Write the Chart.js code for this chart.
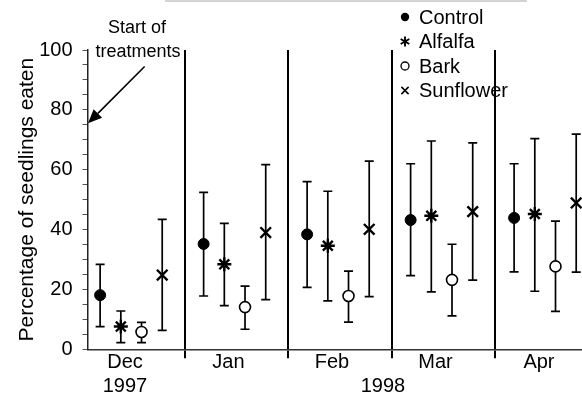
<!DOCTYPE html>
<html><head><meta charset="utf-8">
<script src="https://cdn.jsdelivr.net/npm/chart.js@4/dist/chart.umd.min.js"></script>
<style>html,body{margin:0;padding:0;background:#fff;}#wrap{width:582px;height:394px;}</style>
</head><body><div id="wrap"><canvas id="c" width="582" height="394"></canvas></div>
<script>
// ---- data ----
const months = ['Dec', 'Jan', 'Feb', 'Mar', 'Apr'];
const years = ['1997', '1998'];
const seriesNames = ['Control', 'Alfalfa', 'Bark', 'Sunflower'];
const yTickLabels = [0, 20, 40, 60, 80, 100];

const control      = [18.1, 35.2, 38.4, 43.2, 43.9];
const controlLow   = [7.6, 17.8, 20.7, 24.6, 25.9];
const controlHigh  = [28.4, 52.4, 56.0, 62.0, 62.0];

const alfalfa      = [7.6, 28.4, 34.6, 44.6, 45.2];
const alfalfaLow   = [2.2, 14.6, 16.2, 19.2, 19.4];
const alfalfaHigh  = [12.8, 42.1, 52.8, 69.6, 70.4];

const bark         = [5.8, 14.1, 17.8, 23.2, 27.7];
const barkLow      = [2.2, 6.7, 9.1, 11.2, 12.7];
const barkHigh     = [9.0, 21.1, 26.1, 35.1, 42.8];

const sunflower     = [24.8, 39.0, 40.1, 46.0, 48.9];
const sunflowerLow  = [6.3, 16.6, 17.6, 23.1, 25.8];
const sunflowerHigh = [43.4, 61.7, 62.9, 69.0, 71.9];

// ---- build ----
const FONT = "'Liberation Sans', Arial, Helvetica, sans-serif";
Chart.defaults.font.family = FONT;
Chart.defaults.font.size = 20;
Chart.defaults.color = '#000';

const seriesValues = [control, alfalfa, bark, sunflower];
const seriesLow = [controlLow, alfalfaLow, barkLow, sunflowerLow];
const seriesHigh = [controlHigh, alfalfaHigh, barkHigh, sunflowerHigh];
const withinMonth = [0.18, 0.38, 0.58, 0.78];
const styles = [
  {pointStyle: 'circle', radius: 5.5, backgroundColor: '#000', borderColor: '#000', borderWidth: 1},
  {pointStyle: 'star', radius: 7, backgroundColor: '#000', borderColor: '#000', borderWidth: 2.4},
  {pointStyle: 'circle', radius: 5.5, backgroundColor: '#fff', borderColor: '#000', borderWidth: 1.6},
  {pointStyle: 'crossRot', radius: 7.5, backgroundColor: '#000', borderColor: '#000', borderWidth: 2.4}
];

const datasets = seriesNames.map((name, k) => ({
  type: 'scatter',
  label: name,
  data: months.map((m, i) => ({x: i + withinMonth[k], y: seriesValues[k][i]})),
  errLow: seriesLow[k],
  errHigh: seriesHigh[k],
  pointStyle: styles[k].pointStyle,
  pointRadius: styles[k].radius,
  pointBackgroundColor: styles[k].backgroundColor,
  pointBorderColor: styles[k].borderColor,
  pointBorderWidth: styles[k].borderWidth,
  showLine: false
}));

// x ticks: separators at integer boundaries, month labels, year labels
const xTickDefs = [];
months.forEach((m, i) => {
  if (i > 0) xTickDefs.push({v: i, label: ''});
  xTickDefs.push({v: i + 0.42, label: i === 0 ? [m, years[0]] : [m]});
});
xTickDefs.push({v: 2.913, label: ['', years[1]]});
xTickDefs.sort((a, b) => a.v - b.v);

const errorBars = {
  id: 'errorBars',
  beforeDatasetsDraw(chart) {
    const ctx = chart.ctx, ys = chart.scales.y;
    ctx.save();
    ctx.strokeStyle = '#000';
    ctx.lineWidth = 1.7;
    chart.data.datasets.forEach((ds, di) => {
      const meta = chart.getDatasetMeta(di);
      meta.data.forEach((pt, j) => {
        const x = pt.x;
        const y1 = ys.getPixelForValue(ds.errLow[j]);
        const y2 = ys.getPixelForValue(ds.errHigh[j]);
        ctx.beginPath();
        ctx.moveTo(x, y1); ctx.lineTo(x, y2);
        ctx.moveTo(x - 4.5, y1); ctx.lineTo(x + 4.5, y1);
        ctx.moveTo(x - 4.5, y2); ctx.lineTo(x + 4.5, y2);
        ctx.stroke();
      });
    });
    ctx.restore();
  }
};

function marker(ctx, style, x, y, r) {
  ctx.save();
  ctx.strokeStyle = '#000';
  ctx.fillStyle = '#000';
  ctx.beginPath();
  if (style === 'filled') {
    ctx.arc(x, y, r, 0, Math.PI * 2); ctx.fill();
  } else if (style === 'open') {
    ctx.lineWidth = 1.3;
    ctx.arc(x, y, r, 0, Math.PI * 2); ctx.stroke();
  } else if (style === 'star') {
    ctx.lineWidth = 1.9;
    for (let a = 0; a < 3; a++) {
      const ang = Math.PI / 2 + a * Math.PI / 3;
      ctx.moveTo(x - r * Math.cos(ang), y - r * Math.sin(ang));
      ctx.lineTo(x + r * Math.cos(ang), y + r * Math.sin(ang));
    }
    ctx.stroke();
  } else if (style === 'x') {
    ctx.lineWidth = 1.5;
    ctx.moveTo(x - r, y - r); ctx.lineTo(x + r, y + r);
    ctx.moveTo(x + r, y - r); ctx.lineTo(x - r, y + r);
    ctx.stroke();
  }
  ctx.restore();
}

const legendMarkers = ['filled', 'star', 'open', 'x'];
const legendRadius = [4.2, 5, 4, 3.6];

const extras = {
  id: 'extras',
  afterDraw(chart) {
    const ctx = chart.ctx;
    const xs = chart.scales.x, ys = chart.scales.y;
    ctx.save();
    // faint scan line at top
    ctx.strokeStyle = '#d4d4d4';
    ctx.lineWidth = 2;
    ctx.beginPath(); ctx.moveTo(165, 1); ctx.lineTo(527, 1); ctx.stroke();

    // legend
    ctx.font = '20px ' + FONT;
    ctx.fillStyle = '#000';
    ctx.textBaseline = 'middle';
    ctx.textAlign = 'left';
    chart.data.datasets.forEach((ds, k) => {
      const cy = 17 + k * 24.5;
      marker(ctx, legendMarkers[k], 405, cy, legendRadius[k]);
      ctx.fillText(ds.label, 419, cy + 1);
    });

    // annotation
    ctx.font = '18px ' + FONT;
    ctx.textAlign = 'center';
    ctx.fillText('Start of', 137, 28);
    ctx.fillText('treatments', 138, 52);
    const tipX = xs.left + 0.5, tipY = ys.getPixelForValue(75.5);
    const tailX = xs.getPixelForValue(0.61), tailY = ys.getPixelForValue(94.5);
    const ang = Math.atan2(tipY - tailY, tipX - tailX);
    const hl = 14, hw = 6;
    const bx = tipX - hl * Math.cos(ang), by = tipY - hl * Math.sin(ang);
    ctx.strokeStyle = '#000';
    ctx.lineWidth = 1.6;
    ctx.beginPath(); ctx.moveTo(tailX, tailY); ctx.lineTo(bx, by); ctx.stroke();
    ctx.beginPath();
    ctx.moveTo(tipX, tipY);
    ctx.lineTo(bx + hw * Math.sin(ang), by - hw * Math.cos(ang));
    ctx.lineTo(bx - hw * Math.sin(ang), by + hw * Math.cos(ang));
    ctx.closePath(); ctx.fill();
    ctx.restore();
  }
};

new Chart(document.getElementById('c'), {
  type: 'scatter',
  data: {datasets},
  plugins: [errorBars, extras],
  options: {
    responsive: false,
    devicePixelRatio: 1,
    animation: false,
    layout: {autoPadding: false, padding: {top: 50, right: 0, bottom: 0, left: 0}},
    plugins: {legend: {display: false}, tooltip: {enabled: false}},
    scales: {
      x: {
        type: 'linear',
        min: 0.058, max: 4.836,
        afterBuildTicks: s => { s.ticks = xTickDefs.map(d => ({value: d.v})); },
        afterFit: s => { s.height = 44.7; s.paddingLeft = 0; s.paddingRight = 0; },
        ticks: {
          autoSkip: false, maxRotation: 0, minRotation: 0, padding: -8, color: '#000',
          font: {size: 20},
          callback: (v, i) => xTickDefs[i] ? xTickDefs[i].label : ''
        },
        grid: {
          drawOnChartArea: true, tickLength: 9, lineWidth: 2,
          color: c => (c.tick && Number.isInteger(c.tick.value)) ? '#000' : 'rgba(0,0,0,0)'
        },
        border: {display: true, color: '#333', width: 1.5}
      },
      y: {
        min: 0, max: 100,
        afterBuildTicks: s => { const t = []; for (let v = 0; v <= 100; v += 5) t.push({value: v}); s.ticks = t; },
        afterFit: s => { s.width = 87.5; },
        ticks: {
          autoSkip: false, padding: 10, color: '#000', font: {size: 20},
          callback: v => yTickLabels.includes(v) ? String(v) : ''
        },
        grid: {drawOnChartArea: false, tickLength: 5, color: '#555', lineWidth: 1},
        border: {display: true, color: '#222', width: 1.5},
        title: {
          display: true, text: 'Percentage of seedlings eaten', color: '#000',
          font: {size: 21}, padding: {top: 15, bottom: 0}
        }
      }
    }
  }
});
</script>
</body></html>
